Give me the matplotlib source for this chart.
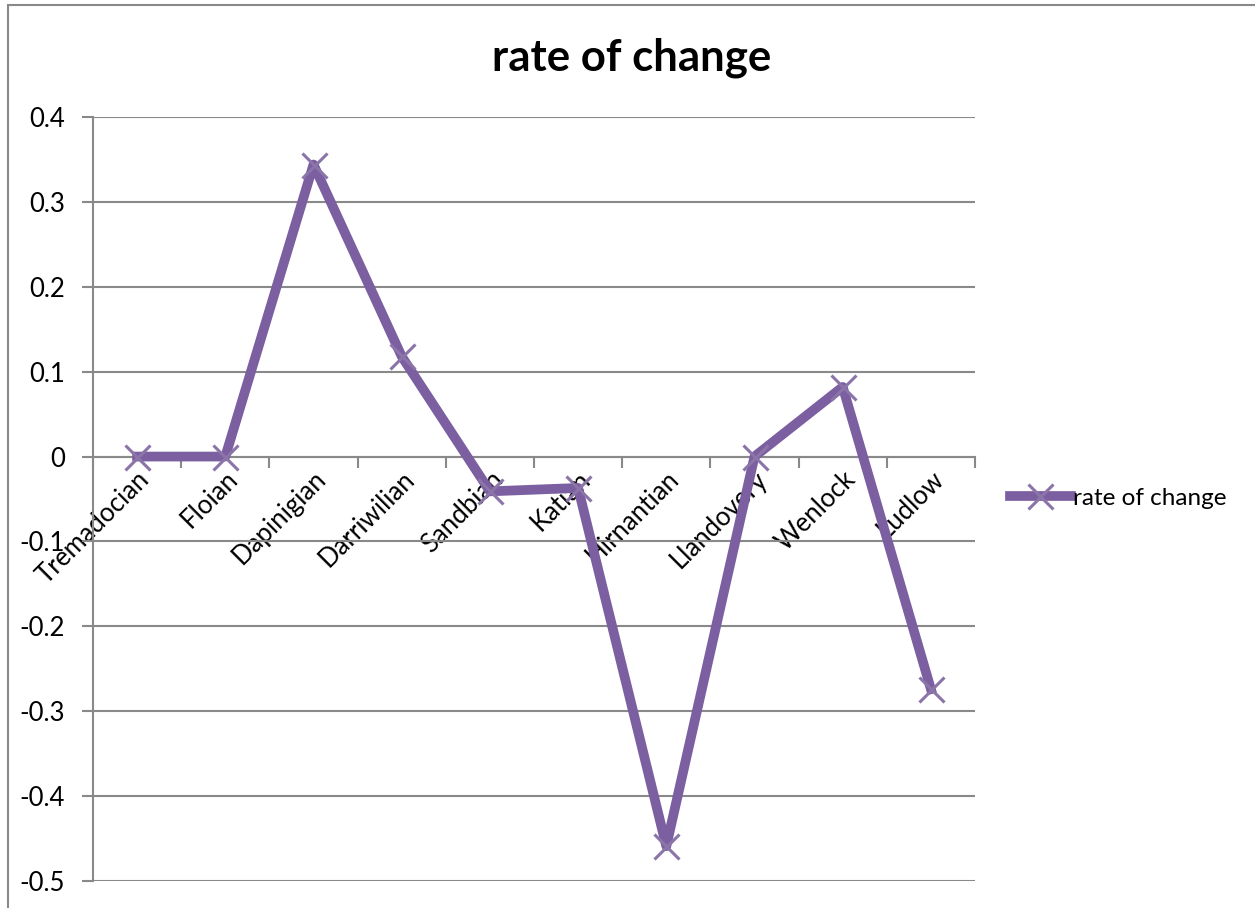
import matplotlib.pyplot as plt
from matplotlib.patches import Rectangle

plt.rcParams['font.family'] = ['Lato', 'DejaVu Sans']

stages = ["Tremadocian", "Floian", "Dapinigian", "Darriwilian", "Sandbian",
          "Katian", "Hirnantian", "Llandovery", "Wenlock", "Ludlow"]
rate = [0.0, 0.0, 0.344, 0.118, -0.041, -0.037, -0.459, 0.0, 0.082, -0.274]
yticks = [-0.5, -0.4, -0.3, -0.2, -0.1, 0, 0.1, 0.2, 0.3, 0.4]

purple = "#7B5FA0"
grey = "#898989"

fig = plt.figure(figsize=(12.55, 9.08), dpi=100)
ax = fig.add_axes([93 / 1255, 1 - 881 / 908, 882 / 1255, 764 / 908])

# chart area border (cut off at right and bottom)
fig.patches.append(Rectangle((8 / 1255, -0.05), 1.2, 1 - 5 / 908 + 0.05,
                             transform=fig.transFigure, fill=False,
                             edgecolor=grey, lw=1.5))

x = list(range(len(stages)))
ax.plot(x, rate, color=purple, lw=7, solid_joinstyle="round",
        marker="x", markersize=18, markeredgewidth=2.2,
        markeredgecolor="#8A74A8", label="rate of change", zorder=3)

ax.set_xlim(-0.5, 9.5)
ax.set_ylim(-0.5, 0.4)
ax.set_yticks(yticks)
ax.set_yticklabels([f"{v:g}" for v in yticks], fontsize=18.5)
ax.grid(axis="y", color=grey, lw=1.5)
ax.set_axisbelow(True)

ax.spines["top"].set_visible(False)
ax.spines["right"].set_visible(False)
ax.spines["bottom"].set_position(("data", 0))
for s in ("left", "bottom"):
    ax.spines[s].set_color(grey)
    ax.spines[s].set_linewidth(1.5)

ax.set_xticks(x)
ax.set_xticklabels(stages, fontsize=18.5, rotation=45, ha="right",
                   va="top", rotation_mode="anchor")
ax.set_xticks([i - 0.5 for i in range(len(stages) + 1)], minor=True)
ax.tick_params(axis="x", which="major", length=0, pad=7)
ax.tick_params(axis="x", which="minor", length=8, width=1.5, color=grey)
ax.tick_params(axis="y", length=8, width=1.5, color=grey, pad=12)

fig.suptitle("rate of change", x=632 / 1255, y=1 - 58 / 908, va="center",
             fontsize=31.5, fontweight="bold")

fig.legend(loc="center left", bbox_to_anchor=(1010 / 1255, 1 - 498 / 908),
           frameon=False, fontsize=17.5, handlelength=2.5, handletextpad=0.1,
           borderpad=0, borderaxespad=0)

fig.savefig("out.png", dpi=100)
